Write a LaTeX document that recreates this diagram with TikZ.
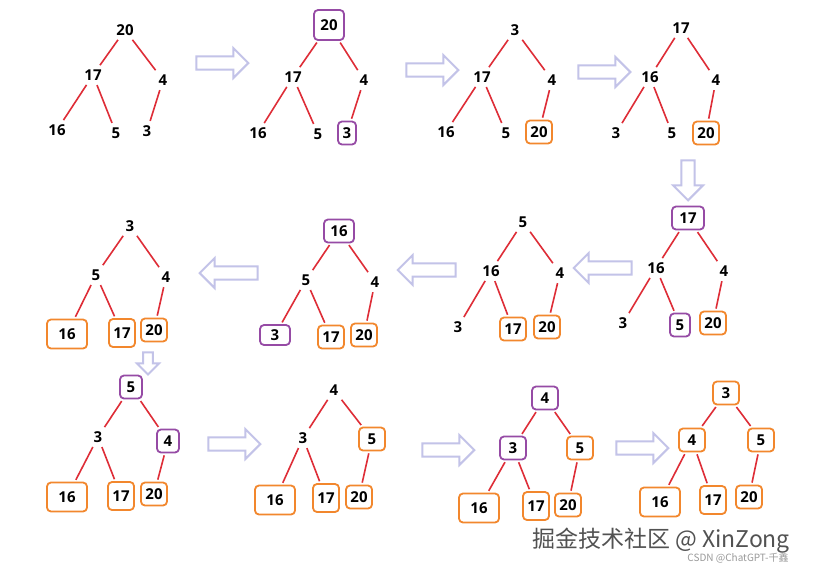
\documentclass[tikz,border=0pt]{standalone}
\usepackage{fontspec}
\setmainfont{Open Sans}
\newfontfamily\cjk{Noto Sans CJK SC}
\usetikzlibrary{shapes.arrows}
\definecolor{eg}{RGB}{222,45,55}
\definecolor{pu}{RGB}{150,75,165}
\definecolor{orn}{RGB}{242,135,45}
\definecolor{lav}{RGB}{195,195,232}
\tikzset{
 n/.style={font=\fontsize{15}{15}\selectfont\bfseries, minimum width=16pt, minimum height=16pt, inner sep=0pt},
 bx/.style={n, line width=1.8pt, rounded corners=4pt, minimum width=26pt, minimum height=23pt},
 pb/.style={bx, draw=pu},
 ob/.style={bx, draw=orn},
 obw/.style={ob, minimum width=40pt, minimum height=29pt},
 e/.style={eg, line width=1.6pt, shorten >=2pt, shorten <=2pt},
 ar/.style={single arrow, draw=lav, fill=white, line width=2pt, minimum height=52pt, minimum width=30pt, single arrow head extend=5pt, inner sep=3pt},
}
\newcommand\edges[1]{\foreach \p/\c in {a/b,a/c,b/d,b/e,c/f}{\draw[e] (#1\p) -- (#1\c);}}
\begin{document}
\begin{tikzpicture}[x=1pt,y=-1pt]
\useasboundingbox[fill=white] (0,0) rectangle (821,574);
% row 1
\node[n] (Aa) at (125,30) {20}; \node[n] (Ab) at (93,75) {17}; \node[n] (Ac) at (163,80) {4};
\node[n] (Ad) at (57,130) {16}; \node[n] (Ae) at (116,133) {5}; \node[n] (Af) at (147,131) {3};
\edges{A}
\node[pb,minimum width=30pt,minimum height=30pt] (Ba) at (329,25) {20}; \node[n] (Bb) at (293,77) {17}; \node[n] (Bc) at (364,80) {4};
\node[n] (Bd) at (258,133) {16}; \node[n] (Be) at (318,134) {5}; \node[pb,minimum width=18pt] (Bf) at (347,133) {3};
\edges{B}
\node[n] (Ca) at (515,30) {3}; \node[n] (Cb) at (482,77) {17}; \node[n] (Cc) at (552,80) {4};
\node[n] (Cd) at (446,132) {16}; \node[n] (Ce) at (506,133) {5}; \node[ob] (Cf) at (539,132) {20};
\edges{C}
\node[n] (Da) at (681,28) {17}; \node[n] (Db) at (650,77) {16}; \node[n] (Dc) at (716,80) {4};
\node[n] (Dd) at (616,133) {3}; \node[n] (De) at (672,133) {5}; \node[ob] (Df) at (706,133) {20};
\edges{D}
% row 2
\node[pb,minimum width=32pt] (Ea) at (688,218) {17}; \node[n] (Eb) at (656,268) {16}; \node[n] (Ec) at (724,271) {4};
\node[n] (Ed) at (623,323) {3}; \node[pb,minimum width=20pt] (Ee) at (680,325) {5}; \node[ob] (Ef) at (713,323) {20};
\edges{E}
\node[n] (Fa) at (523,222) {5}; \node[n] (Fb) at (491,271) {16}; \node[n] (Fc) at (560,273) {4};
\node[n] (Fd) at (458,327) {3}; \node[ob] (Fe) at (513,329) {17}; \node[ob] (Ff) at (547,327) {20};
\edges{F}
\node[pb,minimum width=30pt] (Ga) at (339,231) {16}; \node[n] (Gb) at (306,280) {5}; \node[n] (Gc) at (375,282) {4};
\node[pb,minimum width=30pt,minimum height=20pt] (Gd) at (275,335) {3}; \node[ob] (Ge) at (331,337) {17}; \node[ob] (Gf) at (364,335) {20};
\edges{G}
\node[n] (Ha) at (130,226) {3}; \node[n] (Hb) at (96,275) {5}; \node[n] (Hc) at (166,277) {4};
\node[obw] (Hd) at (67,334) {16}; \node[ob,minimum height=28pt] (He) at (122,333) {17}; \node[ob] (Hf) at (154,330) {20};
\edges{H}
% row 3
\node[pb,minimum width=22pt] (Ia) at (131,387) {5}; \node[n] (Ib) at (98,437) {3}; \node[pb,minimum width=22pt] (Ic) at (168,441) {4};
\node[obw] (Id) at (67,497) {16}; \node[ob,minimum height=28pt] (Ie) at (121,496) {17}; \node[ob] (If) at (154,494) {20};
\edges{I}
\node[n] (Ja) at (334,390) {4}; \node[n] (Jb) at (303,438) {3}; \node[ob] (Jc) at (372,439) {5};
\node[obw] (Jd) at (275,500) {16}; \node[ob,minimum height=28pt] (Je) at (326,498) {17}; \node[ob] (Jf) at (359,497) {20};
\edges{J}
\node[pb] (Ka) at (545,398) {4}; \node[pb] (Kb) at (513,448) {3}; \node[ob] (Kc) at (580,448) {5};
\node[obw] (Kd) at (479,508) {16}; \node[ob,minimum height=28pt] (Ke) at (536,506) {17}; \node[ob] (Kf) at (568,505) {20};
\edges{K}
\node[ob] (La) at (726,393) {3}; \node[ob] (Lb) at (692,440) {4}; \node[ob] (Lc) at (761,440) {5};
\node[obw] (Ld) at (660,502) {16}; \node[ob,minimum height=28pt] (Le) at (713,500) {17}; \node[ob] (Lf) at (749,497) {20};
\edges{L}
% arrows
\node[ar] (r1) at (219,63) {};
\node[ar] (r2) at (429,70) {};
\node[ar] (r3) at (601,72) {};
\node[ar,rotate=-90,minimum height=40pt] (d1) at (688,177) {};
\node[ar,rotate=180,minimum height=58pt] (l1) at (606,268) {};
\node[ar,rotate=180,minimum height=58pt] (l2) at (430,270) {};
\node[ar,rotate=180,minimum height=58pt] (l3) at (232,273) {};
\node[ar,rotate=-90,minimum height=22pt,minimum width=22pt] (d2) at (148,361) {};
\node[ar] (r4) at (231,444) {};
\node[ar] (r5) at (445,450) {};
\node[ar] (r6) at (639,448) {};
% watermark
\node[font=\cjk\fontsize{23}{23}\selectfont, text=black!68] (wm) at (661,541) {掘金技术社区 @ XinZong};
\node[font=\cjk\fontsize{10}{10}\selectfont, text=black!40] (wm2) at (738,558) {CSDN @ChatGPT-千鑫};
\end{tikzpicture}
\end{document}
